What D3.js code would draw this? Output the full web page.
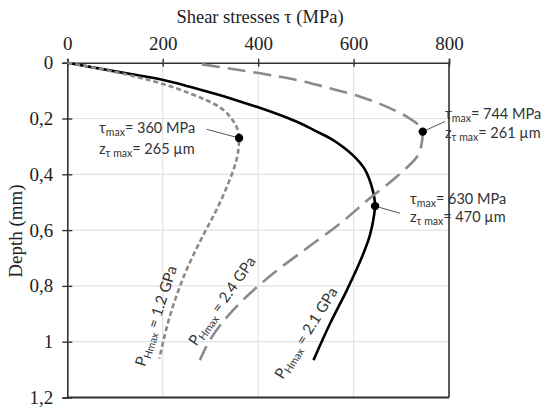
<!DOCTYPE html>
<html>
<head>
<meta charset="utf-8">
<script src="https://cdn.jsdelivr.net/npm/d3@7"></script>
<style>
  html, body { margin: 0; padding: 0; background: #fff; }
  svg { display: block; }
</style>
</head>
<body>
<svg id="chart" width="547" height="408"></svg>
<script>
// ---------- data ----------
const xTicks = [0, 200, 400, 600, 800];
const yTicks = [0, 0.2, 0.4, 0.6, 0.8, 1.0, 1.2];

// P_Hmax = 1.2 GPa  (tau MPa, depth mm)
const tau12   = [0, 100, 194, 257, 318, 346, 360, 357, 349, 338, 323, 306, 287, 266, 248, 230, 213, 201, 193];
const depth12 = [0, 0.033, 0.073, 0.11, 0.158, 0.205, 0.27, 0.33, 0.38, 0.43, 0.49, 0.55, 0.611, 0.683, 0.75, 0.83, 0.92, 1.0, 1.06];

// P_Hmax = 2.1 GPa
const tau21   = [0, 100, 201, 257, 397, 488, 516, 551, 586, 620, 638, 645, 643, 634, 618, 586, 551, 516];
const depth21 = [0, 0.031, 0.062, 0.086, 0.158, 0.217, 0.241, 0.271, 0.313, 0.373, 0.444, 0.514, 0.546, 0.62, 0.695, 0.815, 0.934, 1.066];

// P_Hmax = 2.4 GPa
const tau24   = [282, 404, 481, 551, 614, 676, 711, 745, 740, 690, 634, 572, 502, 432, 348, 299, 278];
const depth24 = [0.006, 0.038, 0.062, 0.092, 0.122, 0.163, 0.193, 0.247, 0.313, 0.409, 0.486, 0.576, 0.665, 0.755, 0.886, 0.994, 1.066];

// maxima markers
const maxTau   = [360, 745, 645];
const maxDepth = [0.27, 0.247, 0.514];
const maxTauLabel = ["360 MPa", "744 MPa", "630 MPa"];
const maxZLabel   = ["265 µm", "261 µm", "470 µm"];
const curveLabels = ["1.2 GPa", "2.4 GPa", "2.1 GPa"];

// ---------- layout ----------
const svg = d3.select("#chart");
const x = d3.scaleLinear().domain([0, 800]).range([67.3, 449]);
const y = d3.scaleLinear().domain([0, 1.2]).range([62.7, 397.5]);

const serif = "'Liberation Serif', 'Times New Roman', serif";
const sans = "Lato, 'Open Sans', sans-serif";
const commaFmt = d3.formatLocale({decimal: ",", thousands: ".", grouping: [3], currency: ["", ""]}).format("~g");

// grid
const grid = svg.append("g");
grid.selectAll(".gx").data(xTicks.slice(1, -1)).join("line")
  .attr("x1", d => x(d)).attr("x2", d => x(d))
  .attr("y1", y(0)).attr("y2", y(1.2))
  .attr("stroke", "#e2e2e2").attr("stroke-width", 1.2);
grid.selectAll(".gy").data(yTicks.slice(1, -1)).join("line")
  .attr("x1", x(0)).attr("x2", x(800))
  .attr("y1", d => y(d)).attr("y2", d => y(d))
  .attr("stroke", "#e2e2e2").attr("stroke-width", 1.2);

// frame (right, bottom)
svg.append("line").attr("x1", x(800)).attr("x2", x(800)).attr("y1", y(0)).attr("y2", y(1.2))
  .attr("stroke", "#333").attr("stroke-width", 1.6);
svg.append("line").attr("x1", x(0)).attr("x2", x(800)).attr("y1", y(1.2)).attr("y2", y(1.2))
  .attr("stroke", "#333").attr("stroke-width", 2);

// axes
const xAxis = svg.append("g").attr("transform", `translate(0,${y(0)})`)
  .call(d3.axisTop(x).tickValues(xTicks).tickSize(4).tickPadding(9).tickFormat(d3.format("d")));
const yAxis = svg.append("g").attr("transform", `translate(${x(0)},0)`)
  .call(d3.axisLeft(y).tickValues(yTicks).tickSize(5).tickPadding(9).tickFormat(commaFmt));
[xAxis, yAxis].forEach(a => {
  a.attr("font-family", serif).attr("font-size", 19);
  a.select(".domain").attr("stroke", "#333").attr("stroke-width", 1.6);
  a.selectAll(".tick line").attr("stroke", "#333").attr("stroke-width", 1.4);
  a.selectAll(".tick text").attr("fill", "#222").style("font-family", serif).style("font-size", "19px");
});
xAxis.selectAll(".tick line").attr("y1", 4).attr("y2", -4);
yAxis.selectAll(".tick line").attr("x1", 5).attr("x2", -5);

// axis titles
svg.append("text").attr("x", 260).attr("y", 23).attr("text-anchor", "middle")
  .style("font-family", serif).style("font-size", "18.5px").attr("fill", "#222")
  .text("Shear stresses τ (MPa)");
svg.append("text").attr("transform", "translate(22,231) rotate(-90)").attr("text-anchor", "middle")
  .style("font-family", serif).style("font-size", "19px").attr("fill", "#222")
  .text("Depth (mm)");

// curves
const line = d3.line().x(d => x(d[0])).y(d => y(d[1])).curve(d3.curveMonotoneY);
const s12 = tau12.map((t, i) => [t, depth12[i]]);
const s21 = tau21.map((t, i) => [t, depth21[i]]);
const s24 = tau24.map((t, i) => [t, depth24[i]]);

svg.append("path").attr("d", line(s21)).attr("fill", "none")
  .attr("stroke", "#000").attr("stroke-width", 2.6);
svg.append("path").attr("d", line(s12)).attr("fill", "none")
  .attr("stroke", "#8a8a8a").attr("stroke-width", 2.6).attr("stroke-dasharray", "5,3");
svg.append("path").attr("d", line(s24)).attr("fill", "none")
  .attr("stroke", "#8a8a8a").attr("stroke-width", 2.6).attr("stroke-dasharray", "18,8");

// leader lines
const leaders = [
  [[206.7, 129.3], 0],
  [[445, 121.5], 1],
  [[400, 213.3], 2]
];
leaders.forEach(([p, i]) => {
  svg.append("line").attr("x1", p[0]).attr("y1", p[1])
    .attr("x2", x(maxTau[i])).attr("y2", y(maxDepth[i]))
    .attr("stroke", "#555").attr("stroke-width", 1);
});

// max dots
svg.selectAll(".dot").data(maxTau).join("circle")
  .attr("cx", d => x(d)).attr("cy", (d, i) => y(maxDepth[i])).attr("r", 4.2).attr("fill", "#000");

// annotation text
const annPos = [[99, 133, 153.5], [445, 118.5, 137.5], [410, 203.5, 222]];
annPos.forEach((p, i) => {
  const t1 = svg.append("text").attr("x", p[0]).attr("y", p[1])
    .style("font-family", sans).style("font-size", "14.5px").attr("fill", "#333");
  t1.append("tspan").text("τ");
  t1.append("tspan").attr("dy", 3).style("font-size", "10.5px").text("max");
  t1.append("tspan").attr("dy", -3).text("= " + maxTauLabel[i]);
  const t2 = svg.append("text").attr("x", p[0]).attr("y", p[2])
    .style("font-family", sans).style("font-size", "14.5px").attr("fill", "#333");
  t2.append("tspan").text("z");
  t2.append("tspan").attr("dy", 3).style("font-size", "10.5px").text("τ max");
  t2.append("tspan").attr("dy", -3).text("= " + maxZLabel[i]);
});

// rotated curve labels
const curveLabelPos = [[156, 316, -72], [222, 301, -55], [306, 333, -58]];
curveLabelPos.forEach((p, i) => {
  const t = svg.append("text").attr("transform", `translate(${p[0]},${p[1]}) rotate(${p[2]})`)
    .attr("text-anchor", "middle").attr("dy", "0.35em")
    .style("font-family", sans).style("font-size", "15px").attr("fill", "#333");
  t.append("tspan").text("P");
  t.append("tspan").attr("dy", 3).style("font-size", "10.5px").text("Hmax");
  t.append("tspan").attr("dy", -3).text(" = " + curveLabels[i]);
});
</script>
</body>
</html>
